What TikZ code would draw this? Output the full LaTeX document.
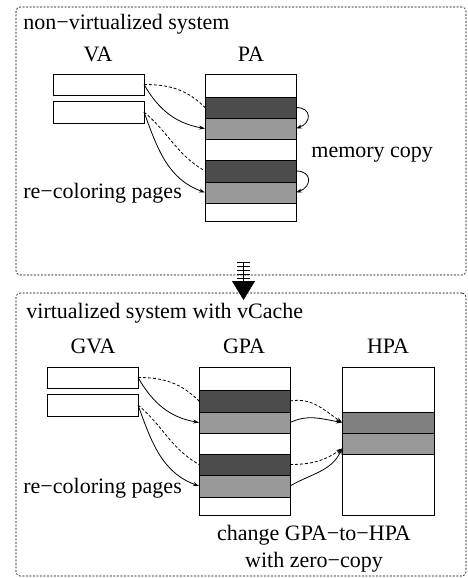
\documentclass[tikz,border=0pt]{standalone}
\usepackage{fontspec}
\setmainfont{Liberation Serif}
\usetikzlibrary{arrows.meta}

\definecolor{darkpage}{gray}{0.3}
\definecolor{lightpage}{gray}{0.6}
\definecolor{hostpage}{gray}{0.5}

\begin{document}
\begin{tikzpicture}
[x = 1pt, y = -1pt, line width = 0.8pt,
 every node/.style = {inner sep = 0pt, font = \fontsize{22}{27}\selectfont},
 frame/.style = {draw, dash pattern = on 2pt off 1.5pt, line width = 0.6pt, rounded corners = 4pt, anchor = north west, outer sep = 0pt},
 page/.style = {draw, minimum width = 91pt, anchor = north west, outer sep = 0pt},
 slot/.style = {draw, fill = #1, minimum width = 91pt, anchor = north west, outer sep = 0pt},
 map/.style = {-{Stealth[length = 6pt, width = 4pt]}},
 remap/.style = {dash pattern = on 3pt off 2pt},
 hatched/.style = {line width = 13pt, dash pattern = on 1pt off 3pt}]
\useasboundingbox (0,0) rectangle (467,578);

\node[frame, minimum width = 450pt, minimum height = 268pt] (plain) at (16,7) {};
\node[frame, minimum width = 450pt, minimum height = 283pt] (virt) at (16,293) {};

\node[anchor = base west] (plaintitle) at (23,30) {non−virtualized system};
\node[anchor = base] (valabel) at (98,62) {VA};
\node[anchor = base] (palabel) at (251,62) {PA};

\node[page, minimum height = 21pt] (va1) at (53,74) {};
\node[page, minimum height = 22pt] (va2) at (53,101) {};
\foreach \i/\y/\h/\c in {1/74/23/white, 2/97/21/darkpage, 3/118/21/lightpage, 4/139/21/white,
                         5/160/22/darkpage, 6/182/21/lightpage, 7/203/18/white}
   \node[slot = \c, minimum height = \h*1pt] (pa\i) at (205,\y) {};

\draw[remap] (va1.east) to[out = 0, in = 135] (pa2.west);
\draw[map] (va1.east) to[out = -60, in = 170] (pa3.west);
\draw[remap] (va2.east) to[out = -40, in = 150] (pa5.west);
\draw[map] (va2.east) to[out = -70, in = 160] (pa6.west);
\draw[map] (pa2.east) to[out = 0, in = 20, looseness = 2] (pa3.east);
\draw[map] (pa5.east) to[out = 0, in = 20, looseness = 2] (pa6.east);

\node[anchor = base west] (copylabel) at (311,157) {memory copy};
\node[anchor = base west] (recolor) at (23,198) {re−coloring pages};

\draw[hatched] ([xshift = 2.5pt, yshift = 13pt]plain.south) -- ([xshift = 2.5pt, yshift = -6pt]plain.south);
\draw[-{Triangle[length = 19pt, width = 23pt]}] ([xshift = 2.5pt, yshift = 13pt]plain.south) -- ([xshift = 2.5pt, yshift = -7pt]virt.north);

\node[anchor = base west] (virttitle) at (26,318) {virtualized system with vCache};
\node[anchor = base] (gvalabel) at (93,353) {GVA};
\node[anchor = base] (gpalabel) at (244,353) {GPA};
\node[anchor = base] (hpalabel) at (388,353) {HPA};

\node[page, minimum height = 21pt] (gva1) at (47,367) {};
\node[page, minimum height = 22pt] (gva2) at (47,394) {};
\foreach \i/\y/\h/\c in {1/367/23/white, 2/390/22/darkpage, 3/412/21/lightpage, 4/433/21/white,
                         5/454/21/darkpage, 6/475/22/lightpage, 7/497/18/white}
   \node[slot = \c, minimum height = \h*1pt] (gpa\i) at (199,\y) {};
\foreach \i/\y/\h/\c in {1/367/45/white, 2/412/21/hostpage, 3/433/21/lightpage, 4/454/61/white}
   \node[slot = \c, minimum width = 92pt, minimum height = \h*1pt] (hpa\i) at (342,\y) {};

\draw[remap] (gva1.east) to[out = 0, in = 135] (gpa2.west);
\draw[map] (gva1.east) to[out = -60, in = 170] (gpa3.west);
\draw[remap] (gva2.east) to[out = -40, in = 150] (gpa5.west);
\draw[map] (gva2.east) to[out = -70, in = 160] (gpa6.west);
\draw[remap, map] (gpa2.east) to[out = 10, in = 145] (hpa2.west);
\draw[map] (gpa3.east) to[out = 25, in = 170] (hpa2.west);
\draw[remap, map] (gpa5.east) to[out = 0, in = -145] ([yshift = -5pt]hpa3.west);
\draw[map] (gpa6.east) to[out = 30, in = -115] ([yshift = -5pt]hpa3.west);

\node[anchor = base west] (vrecolor) at (23,493) {re−coloring pages};
\node[align = center, anchor = north] (zerocopy) at (314,525) {change GPA−to−HPA\\with zero−copy};
\end{tikzpicture}
\end{document}
